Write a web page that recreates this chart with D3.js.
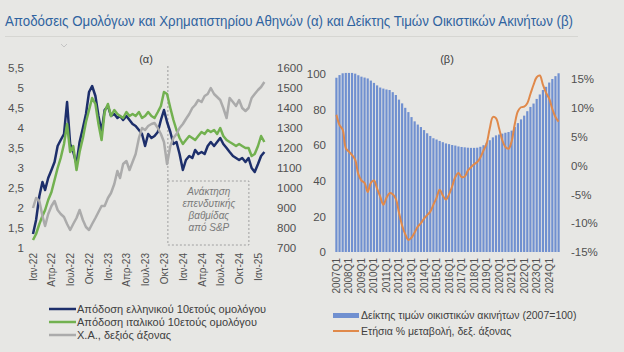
<!DOCTYPE html>
<html><head><meta charset="utf-8">
<script src="https://cdn.jsdelivr.net/npm/d3@7"></script>
<style>
body{margin:0;background:#e7e7e4;}
svg{display:block;font-family:"Liberation Sans",Arial,sans-serif;}
</style></head><body>
<svg id="c" width="624" height="352"></svg>
<script>
// ---------- Data: panel (α) ----------
const bondDates = [
"2022-01-01","2022-01-16","2022-02-01","2022-02-16","2022-03-01","2022-03-16","2022-04-01","2022-04-16","2022-05-01","2022-05-16","2022-06-01","2022-06-16",
"2022-07-01","2022-07-16","2022-08-01","2022-08-16","2022-09-01","2022-09-16","2022-10-01","2022-10-16","2022-11-01","2022-11-16","2022-12-01","2022-12-16",
"2023-01-01","2023-01-16","2023-02-01","2023-02-16","2023-03-01","2023-03-16","2023-04-01","2023-04-16","2023-05-01","2023-05-16","2023-06-01","2023-06-16",
"2023-07-01","2023-07-16","2023-08-01","2023-08-16","2023-09-01","2023-09-16","2023-10-01","2023-10-16","2023-11-01","2023-11-16","2023-12-01","2023-12-16",
"2024-01-01","2024-01-16","2024-02-01","2024-02-16","2024-03-01","2024-03-16","2024-04-01","2024-04-16","2024-05-01","2024-05-16","2024-06-01","2024-06-16",
"2024-07-01","2024-07-16","2024-08-01","2024-08-16","2024-09-01","2024-09-16","2024-10-01","2024-10-16","2024-11-01","2024-11-16","2024-12-01","2024-12-16",
"2025-01-01","2025-01-16","2025-02-01"];
const greekYield = [
1.35,1.7,2.3,2.65,2.45,2.75,2.95,3.15,3.55,3.7,3.85,4.65,3.6,3.4,3.1,3.65,4.0,4.35,4.9,5.05,4.8,4.3,3.9,4.45,
4.55,4.3,4.35,4.25,4.3,4.2,4.3,4.2,4.1,4.05,3.95,3.85,3.55,3.85,3.75,3.8,3.9,4.2,4.45,4.15,3.9,3.6,3.65,3.35,
2.95,3.2,3.3,3.25,3.45,3.35,3.4,3.35,3.55,3.65,3.55,3.65,3.75,3.6,3.5,3.4,3.3,3.25,3.2,3.25,3.15,3.25,3.0,2.9,
3.1,3.3,3.4];
const italianYield = [
1.2,1.35,1.6,1.8,1.95,2.2,2.4,2.7,3.0,3.25,3.6,4.1,3.4,3.55,2.95,3.4,3.75,4.15,4.45,4.75,4.6,4.1,3.7,4.4,
4.6,4.3,4.45,4.35,4.3,4.25,4.4,4.3,4.35,4.3,4.4,4.25,4.3,4.4,4.3,4.25,4.4,4.55,4.9,4.85,4.5,4.2,3.95,3.75,
3.6,3.7,3.8,3.75,3.7,3.8,3.9,3.85,3.95,3.9,3.95,3.85,4.0,3.8,3.7,3.65,3.6,3.55,3.6,3.55,3.5,3.5,3.3,3.35,
3.55,3.8,3.65];
const athexIndex = [
900,950,935,860,810,870,910,935,890,870,855,820,790,820,850,890,840,805,790,820,850,880,910,910,
950,975,1020,1085,1050,1120,1135,1090,1130,1170,1250,1300,1290,1310,1320,1325,1300,1270,1230,1120,1210,1250,1270,1300,
1320,1345,1370,1400,1415,1440,1430,1460,1470,1500,1470,1455,1440,1400,1350,1450,1430,1410,1440,1400,1385,1400,1450,1470,
1490,1505,1530];
const bondTickDates = ["2022-01-01","2022-04-01","2022-07-01","2022-10-01","2023-01-01","2023-04-01","2023-07-01","2023-10-01","2024-01-01","2024-04-01","2024-07-01","2024-10-01","2025-01-01"];
const bondTickLabels = ["Ιαν-22","Απρ-22","Ιουλ-22","Οκτ-22","Ιαν-23","Απρ-23","Ιουλ-23","Οκτ-23","Ιαν-24","Απρ-24","Ιουλ-24","Οκτ-24","Ιαν-25"];
const yieldTicks = [1,1.5,2,2.5,3,3.5,4,4.5,5,5.5];
const athexTicks = [700,800,900,1000,1100,1200,1300,1400,1500,1600];
const upgradeDate = "2023-10-20";
const upgradeNote = ["Ανάκτηση","επενδυτικής","βαθμίδας","από S&P"];
const bondLegend = ["Απόδοση ελληνικού 10ετούς ομολόγου","Απόδοση ιταλικού 10ετούς ομολόγου","Χ.Α., δεξιός άξονας"];

// ---------- Data: panel (β) ----------
const quarters = [
"2007Q1","2007Q2","2007Q3","2007Q4","2008Q1","2008Q2","2008Q3","2008Q4","2009Q1","2009Q2","2009Q3","2009Q4",
"2010Q1","2010Q2","2010Q3","2010Q4","2011Q1","2011Q2","2011Q3","2011Q4","2012Q1","2012Q2","2012Q3","2012Q4",
"2013Q1","2013Q2","2013Q3","2013Q4","2014Q1","2014Q2","2014Q3","2014Q4","2015Q1","2015Q2","2015Q3","2015Q4",
"2016Q1","2016Q2","2016Q3","2016Q4","2017Q1","2017Q2","2017Q3","2017Q4","2018Q1","2018Q2","2018Q3","2018Q4",
"2019Q1","2019Q2","2019Q3","2019Q4","2020Q1","2020Q2","2020Q3","2020Q4","2021Q1","2021Q2","2021Q3","2021Q4",
"2022Q1","2022Q2","2022Q3","2022Q4","2023Q1","2023Q2","2023Q3","2023Q4","2024Q1","2024Q2","2024Q3","2024Q4"];
const housePriceIndex = [
97.9,99.4,100.4,100.6,100.6,100.6,100.2,99.3,98.5,98.0,97.5,96.3,
95.0,93.6,92.4,91.8,91.3,91.0,89.8,88.2,85.6,83.5,81.0,78.6,
75.8,73.4,71.6,70.2,68.5,66.7,65.2,63.9,63.2,62.4,61.7,61.0,
60.6,60.1,59.8,59.3,59.0,58.8,58.6,58.5,58.5,58.6,59.1,60.0,
61.4,62.8,64.4,65.5,66.0,66.5,67.0,67.4,68.2,70.2,72.4,74.5,
76.6,79.1,81.5,83.4,86.0,88.5,91.0,92.8,95.2,97.2,98.8,100.4];
const houseAnnualChange = [
8.8,7.0,6.2,3.0,2.4,1.8,1.0,-1.5,-2.6,-3.0,-4.6,-3.0,
-2.6,-4.0,-5.4,-6.8,-5.6,-4.8,-5.0,-5.8,-8.2,-10.4,-11.9,-12.9,
-12.5,-11.6,-10.6,-10.0,-9.2,-8.6,-8.0,-6.8,-5.6,-4.2,-5.2,-5.9,
-5.0,-3.6,-2.0,-1.3,-2.0,-1.9,-0.9,-0.3,0.2,0.6,1.4,2.6,
3.8,6.4,8.4,8.2,6.4,4.4,3.2,2.9,4.2,7.2,9.4,10.1,
10.2,10.8,12.4,14.0,15.3,15.6,14.0,12.6,11.6,9.8,8.4,7.6];
const quarterTicks = ["2007Q1","2008Q1","2009Q1","2010Q1","2011Q1","2012Q1","2013Q1","2014Q1","2015Q1","2016Q1","2017Q1","2018Q1","2019Q1","2020Q1","2021Q1","2022Q1","2023Q1","2024Q1"];
const hpiTicks = [0,20,40,60,80,100];
const changeTicks = [-15,-10,-5,0,5,10,15];
const houseLegend = ["Δείκτης τιμών οικιστικών ακινήτων (2007=100)","Ετήσια % μεταβολή, δεξ. άξονας"];

const titleText = "Αποδόσεις Ομολόγων και Χρηματιστηρίου Αθηνών (α) και Δείκτης Τιμών Οικιστικών Ακινήτων (β)";

// ---------- Styles ----------
const C = {navy:"#1d2f6b", green:"#72b150", gray:"#ababab", bar:"#7090d0", orange:"#e0894a", text:"#404040", tick:"#505050", title:"#2f63a0"};

const svg = d3.select("#c");
const parse = d3.timeParse("%Y-%m-%d");
const grLocale = d3.formatLocale({decimal:",", thousands:".", grouping:[3], currency:["","€"]});
const fmtComma = grLocale.format("~g");

// title
svg.append("text").attr("x",5).attr("y",26).attr("fill",C.title)
  .attr("font-size",14).attr("textLength",568).attr("lengthAdjust","spacingAndGlyphs").text(titleText);
svg.append("line").attr("x1",5).attr("x2",578).attr("y1",36.5).attr("y2",36.5).attr("stroke","#d6d6d2");
svg.append("path").attr("d","M61,44 L64,47 L67,44").attr("fill","none").attr("stroke","#c4c4c4");

// ===== Panel α =====
const xL = d3.scaleTime().domain([parse("2022-01-01"), parse("2025-01-01")]).range([33, 258]);
const yL = d3.scaleLinear().domain([1, 5.5]).range([248, 68]);
const yA = d3.scaleLinear().domain([700, 1600]).range([248, 68]);

const gA = svg.append("g");
// panel label
gA.append("text").attr("x",146).attr("y",63).attr("text-anchor","middle").attr("font-size",11).attr("fill",C.text).text("(α)");

// upgrade marker
const xu = xL(parse(upgradeDate));
gA.append("line").attr("x1",xu).attr("x2",xu).attr("y1",66).attr("y2",181)
  .attr("stroke","#9a9a9a").attr("stroke-dasharray","2,2");
gA.append("rect").attr("x",xu).attr("y",181).attr("width",81).attr("height",64)
  .attr("fill","none").attr("stroke","#a0a0a0").attr("stroke-dasharray","2,2");
upgradeNote.forEach((t,i)=>{
  gA.append("text").attr("x",xu+41).attr("y",195+i*12).attr("text-anchor","middle")
    .attr("font-size",10).attr("font-style","italic").attr("fill","#7a7a7a").text(t);
});

// axes
const axL = gA.append("g").attr("transform","translate(24,0)")
  .call(d3.axisLeft(yL).tickValues(yieldTicks).tickFormat(fmtComma).tickSize(0).tickPadding(0));
const axR = gA.append("g").attr("transform","translate(277,0)")
  .call(d3.axisRight(yA).tickValues(athexTicks).tickFormat(d3.format("d")).tickSize(0).tickPadding(0));
const axB = gA.append("g").attr("transform","translate(0,249)")
  .call(d3.axisBottom(xL).tickValues(bondTickDates.map(parse)).tickFormat((d,i)=>bondTickLabels[i]).tickSize(0));
[axL,axR,axB].forEach(a=>{a.select(".domain").remove(); a.selectAll("text").attr("fill",C.tick).attr("font-size",11.5).attr("font-family","Liberation Sans, Arial, sans-serif");});
axB.selectAll("text").attr("font-size",10).attr("transform","rotate(-90)").attr("text-anchor","end")
  .attr("x",-4).attr("y",0).attr("dy","0.35em");

// lines
const bondPts = bondDates.map(parse);
const mkLine = (vals, ys) => d3.line().x((d,i)=>xL(bondPts[i])).y(d=>ys(d))(vals);
gA.append("path").attr("d",mkLine(greekYield,yL)).attr("fill","none").attr("stroke",C.navy).attr("stroke-width",2.5).attr("stroke-linejoin","round");
gA.append("path").attr("d",mkLine(italianYield,yL)).attr("fill","none").attr("stroke",C.green).attr("stroke-width",2.5).attr("stroke-linejoin","round");
gA.append("path").attr("d",mkLine(athexIndex,yA)).attr("fill","none").attr("stroke",C.gray).attr("stroke-width",2.5).attr("stroke-linejoin","round");

// legend α
const legCols = [C.navy, C.green, C.gray];
bondLegend.forEach((t,i)=>{
  const y = 309 + i*13;
  gA.append("line").attr("x1",49).attr("x2",76).attr("y1",y).attr("y2",y).attr("stroke",legCols[i]).attr("stroke-width",2.5);
  gA.append("text").attr("x",77).attr("y",y).attr("dy","0.35em").attr("font-size",11).attr("fill",C.text).text(t);
});

// ===== Panel β =====
const xB = d3.scaleBand().domain(quarters).range([335, 560]).paddingInner(0.3).paddingOuter(0.1);
const yB = d3.scaleLinear().domain([0, 100]).range([252, 74]);
const yP = d3.scaleLinear().domain([-15, 15]).range([252, 79]);
const gB = svg.append("g");
gB.append("text").attr("x",447).attr("y",63).attr("text-anchor","middle").attr("font-size",11).attr("fill",C.text).text("(β)");

gB.selectAll("rect.bar").data(housePriceIndex).join("rect").attr("class","bar")
  .attr("x",(d,i)=>xB(quarters[i])).attr("width",xB.bandwidth())
  .attr("y",d=>yB(d)).attr("height",d=>yB(0)-yB(d)).attr("fill",C.bar);

gB.append("path").attr("d", d3.line().curve(d3.curveCatmullRom.alpha(0.5))
    .x((d,i)=>xB(quarters[i])+xB.bandwidth()/2).y(d=>yP(d))(houseAnnualChange))
  .attr("fill","none").attr("stroke",C.orange).attr("stroke-width",2);

const bL = gB.append("g").attr("transform","translate(326,0)")
  .call(d3.axisLeft(yB).tickValues(hpiTicks).tickSize(0).tickPadding(0));
const bR = gB.append("g").attr("transform","translate(571,0)")
  .call(d3.axisRight(yP).tickValues(changeTicks).tickFormat(d=>d+"%").tickSize(0).tickPadding(0));
const bB = gB.append("g").attr("transform","translate(0,252)")
  .call(d3.axisBottom(xB).tickValues(quarterTicks).tickSize(0));
[bL,bR,bB].forEach(a=>{a.select(".domain").remove(); a.selectAll("text").attr("fill",C.tick).attr("font-size",11.5).attr("font-family","Liberation Sans, Arial, sans-serif");});
bB.selectAll("text").attr("font-size",10).attr("transform","rotate(-90)").attr("text-anchor","end")
  .attr("x",-6).attr("y",0).attr("dy","0.35em");

// legend β
gB.append("rect").attr("x",333).attr("y",313).attr("width",26).attr("height",5).attr("fill",C.bar);
gB.append("text").attr("x",361).attr("y",315.5).attr("dy","0.35em").attr("font-size",10.5).attr("fill",C.text).text(houseLegend[0]);
gB.append("line").attr("x1",333).attr("x2",359).attr("y1",331).attr("y2",331).attr("stroke",C.orange).attr("stroke-width",2);
gB.append("text").attr("x",361).attr("y",331).attr("dy","0.35em").attr("font-size",10.5).attr("fill",C.text).text(houseLegend[1]);
</script>
</body></html>
